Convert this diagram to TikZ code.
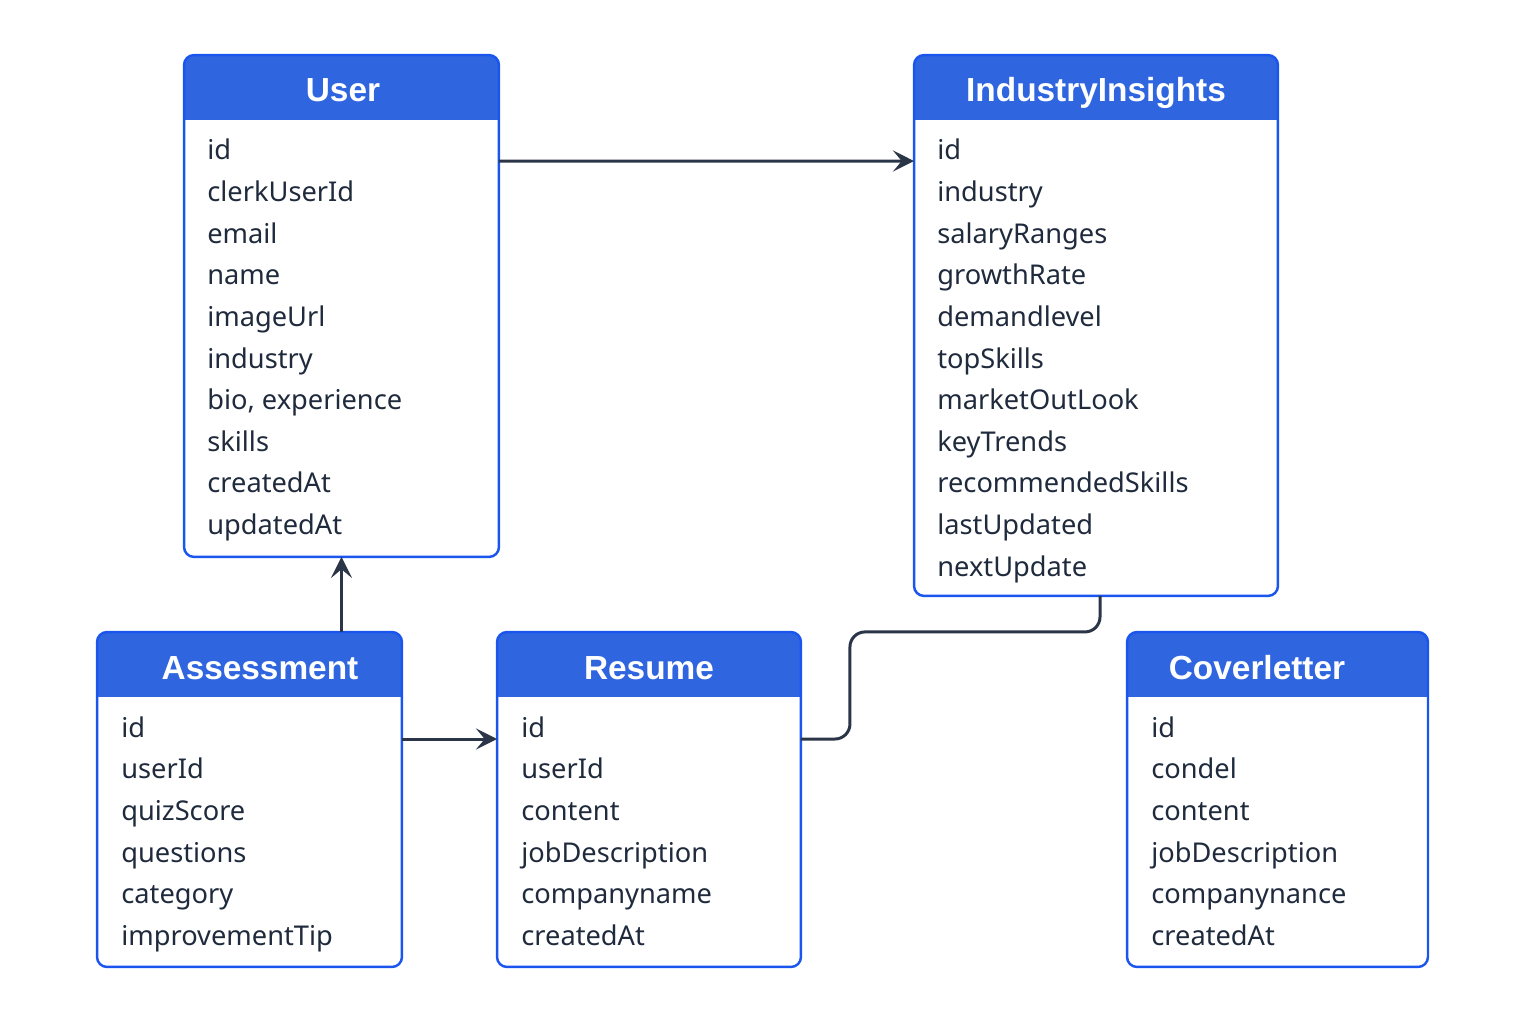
\documentclass[tikz,border=0pt]{standalone}
\usepackage{fontspec}
\setmainfont{Noto Sans}
\newfontfamily\headfont{Liberation Sans}
\usetikzlibrary{arrows.meta}
\usetikzlibrary{positioning,calc}
\definecolor{headblue}{HTML}{2F66E0}
\definecolor{edgeblue}{HTML}{1A55EE}
\definecolor{ink}{HTML}{1F2A3C}
\definecolor{wire}{HTML}{2A3548}

\begin{document}
\begin{tikzpicture}[x=0.02cm, y=-0.02cm,
	table/.style = {minimum width=#1, inner sep=0pt, outer sep=0pt},
	edge/.style = {draw=edgeblue, line width=1.4pt, rounded corners=0.2cm},
	title/.style = {text=white, font=\headfont\fontsize{19}{22}\selectfont\bfseries, anchor=base},
	field/.style = {text=ink, font=\fontsize{15.5}{18}\selectfont, anchor=base west, inner sep=0pt},
	link/.style = {draw=wire, line width=1.7pt, -{Stealth[length=12pt, width=12pt, inset=5pt]}},
	wireline/.style = {draw=wire, line width=1.7pt, rounded corners=0.3cm}]
		\useasboundingbox (0,0) rectangle (1536,1024);
		% tables
		\node[table=6.3cm, minimum height=10.04cm] (user) at (341.5, 306) {};
		\node[table=7.28cm, minimum height=10.82cm] (insights) at (1096, 325.5) {};
		\node[table=6.1cm, minimum height=6.7cm] (assess) at (249.5, 799.5) {};
		\node[table=6.08cm, minimum height=6.7cm] (resume) at (649, 799.5) {};
		\node[table=6.02cm, minimum height=6.7cm] (cover) at (1277.5, 799.5) {};
		% headers
		\foreach \t in {user, insights, assess, resume, cover} {
			\begin{scope}
				\clip[rounded corners=0.2cm] (\t.north west) rectangle (\t.south east);
				\fill[headblue] (\t.north west) rectangle ([yshift=-1.3cm]\t.north east);
			\end{scope}
			\draw[edge] (\t.north west) rectangle (\t.south east);
		}
		\node[title] (usertitle) at (343, 102) {User};
		\node[title] (insightstitle) at (1096, 102) {IndustryInsights};
		\node[title] (assesstitle) at (260, 679) {Assessment};
		\node[title] (resumetitle) at (649, 679) {Resume};
		\node[title] (covertitle) at (1257, 679) {Coverletter};
		% fields
		\foreach \f [count=\i from 0] in {id, clerkUserId, email, name, imageUrl, industry, {bio, experience}, skills, createdAt, updatedAt}
			\node[field] (userf\i) at (207, 160+41.6*\i) {\f};
		\foreach \f [count=\i from 0] in {id, industry, salaryRanges, growthRate, demandlevel, topSkills, marketOutLook, keyTrends, recommendedSkills, lastUpdated, nextUpdate}
			\node[field] (insightsf\i) at (937, 160+41.6*\i) {\f};
		\foreach \f [count=\i from 0] in {id, userId, quizScore, questions, category, improvementTip}
			\node[field] (assessf\i) at (121, 737+41.7*\i) {\f};
		\foreach \f [count=\i from 0] in {id, userId, content, jobDescription, companyname, createdAt}
			\node[field] (resumef\i) at (521, 737+41.7*\i) {\f};
		\foreach \f [count=\i from 0] in {id, condel, content, jobDescription, companynance, createdAt}
			\node[field] (coverf\i) at (1151, 737+41.7*\i) {\f};
		% links
		\draw[link] ([yshift=-2.12cm]user.north east) -- ([yshift=-2.12cm]insights.north west);
		\draw[link] (assess.north -| user.south) -- (user.south);
		\draw[link] ([yshift=-2.14cm]assess.north east) -- ([yshift=-2.14cm]resume.north west);
		\draw[wireline] ([xshift=0.08cm]insights.south) -- ++(0,-0.72cm) -| ([xshift=0.98cm, yshift=-2.14cm]resume.north east) -- ([yshift=-2.14cm]resume.north east);
	\end{tikzpicture}
\end{document}
